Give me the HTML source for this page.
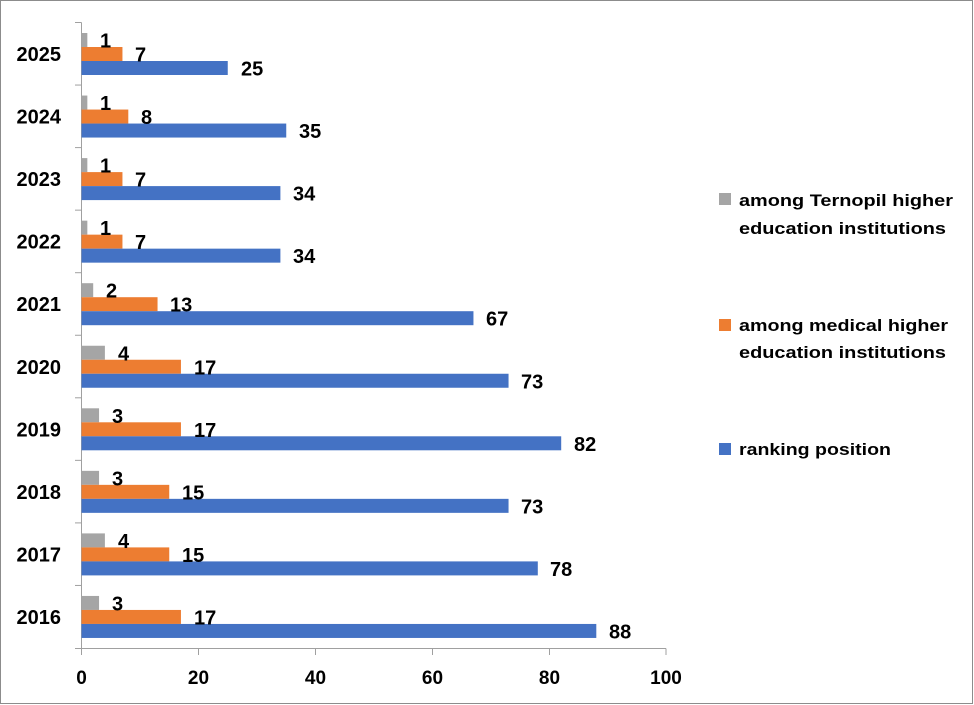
<!DOCTYPE html>
<html><head><meta charset="utf-8"><style>html,body{margin:0;padding:0;background:#fff}svg{display:block}text{font-family:"Liberation Sans",Arial,sans-serif;font-weight:bold;fill:#000}</style></head>
<body>
<svg width="974" height="705" xmlns="http://www.w3.org/2000/svg">
<rect x="0.5" y="0.5" width="972" height="703" fill="#fff" stroke="#8c8c8c"/>
<g stroke="#a0a0a0" stroke-width="1">
<line x1="81.5" y1="22.5" x2="81.5" y2="648.5"/>
<line x1="81.5" y1="648.5" x2="666" y2="648.5"/>
<line x1="75" y1="22.5" x2="81.5" y2="22.5"/><line x1="75" y1="85.05" x2="81.5" y2="85.05"/><line x1="75" y1="147.6" x2="81.5" y2="147.6"/><line x1="75" y1="210.15" x2="81.5" y2="210.15"/><line x1="75" y1="272.7" x2="81.5" y2="272.7"/><line x1="75" y1="335.25" x2="81.5" y2="335.25"/><line x1="75" y1="397.8" x2="81.5" y2="397.8"/><line x1="75" y1="460.35" x2="81.5" y2="460.35"/><line x1="75" y1="522.9" x2="81.5" y2="522.9"/><line x1="75" y1="585.45" x2="81.5" y2="585.45"/><line x1="75" y1="648.5" x2="81.5" y2="648.5"/>
<line x1="81.5" y1="648.5" x2="81.5" y2="655"/><line x1="198.5" y1="648.5" x2="198.5" y2="655"/><line x1="315.5" y1="648.5" x2="315.5" y2="655"/><line x1="432.5" y1="648.5" x2="432.5" y2="655"/><line x1="549.5" y1="648.5" x2="549.5" y2="655"/><line x1="666" y1="648.5" x2="666" y2="655"/>
</g>
<g font-size="19" text-anchor="middle">
<text x="81.5" y="684">0</text><text x="198.5" y="684">20</text><text x="315.5" y="684">40</text><text x="432.5" y="684">60</text><text x="549.5" y="684">80</text><text x="666" y="684">100</text>
</g>
<g font-size="20">
<g transform="translate(0,22.5)"><rect x="81.5" y="10.5" width="5.85" height="14" fill="#a5a5a5"/><rect x="81.5" y="24.5" width="40.95" height="14" fill="#ed7d31"/><rect x="81.5" y="38.5" width="146.25" height="14" fill="#4472c4"/><text x="61" y="38.5" text-anchor="end">2025</text><text x="100" y="25">1</text><text x="135" y="39">7</text><text x="241" y="53">25</text></g>
<g transform="translate(0,85.05)"><rect x="81.5" y="10.5" width="5.85" height="14" fill="#a5a5a5"/><rect x="81.5" y="24.5" width="46.8" height="14" fill="#ed7d31"/><rect x="81.5" y="38.5" width="204.75" height="14" fill="#4472c4"/><text x="61" y="38.5" text-anchor="end">2024</text><text x="100" y="25">1</text><text x="141" y="39">8</text><text x="299" y="53">35</text></g>
<g transform="translate(0,147.6)"><rect x="81.5" y="10.5" width="5.85" height="14" fill="#a5a5a5"/><rect x="81.5" y="24.5" width="40.95" height="14" fill="#ed7d31"/><rect x="81.5" y="38.5" width="198.9" height="14" fill="#4472c4"/><text x="61" y="38.5" text-anchor="end">2023</text><text x="100" y="25">1</text><text x="135" y="39">7</text><text x="293" y="53">34</text></g>
<g transform="translate(0,210.15)"><rect x="81.5" y="10.5" width="5.85" height="14" fill="#a5a5a5"/><rect x="81.5" y="24.5" width="40.95" height="14" fill="#ed7d31"/><rect x="81.5" y="38.5" width="198.9" height="14" fill="#4472c4"/><text x="61" y="38.5" text-anchor="end">2022</text><text x="100" y="25">1</text><text x="135" y="39">7</text><text x="293" y="53">34</text></g>
<g transform="translate(0,272.7)"><rect x="81.5" y="10.5" width="11.7" height="14" fill="#a5a5a5"/><rect x="81.5" y="24.5" width="76.05" height="14" fill="#ed7d31"/><rect x="81.5" y="38.5" width="391.95" height="14" fill="#4472c4"/><text x="61" y="38.5" text-anchor="end">2021</text><text x="106" y="25">2</text><text x="170" y="39">13</text><text x="486" y="53">67</text></g>
<g transform="translate(0,335.25)"><rect x="81.5" y="10.5" width="23.4" height="14" fill="#a5a5a5"/><rect x="81.5" y="24.5" width="99.45" height="14" fill="#ed7d31"/><rect x="81.5" y="38.5" width="427.05" height="14" fill="#4472c4"/><text x="61" y="38.5" text-anchor="end">2020</text><text x="118" y="25">4</text><text x="194" y="39">17</text><text x="521" y="53">73</text></g>
<g transform="translate(0,397.8)"><rect x="81.5" y="10.5" width="17.55" height="14" fill="#a5a5a5"/><rect x="81.5" y="24.5" width="99.45" height="14" fill="#ed7d31"/><rect x="81.5" y="38.5" width="479.7" height="14" fill="#4472c4"/><text x="61" y="38.5" text-anchor="end">2019</text><text x="112" y="25">3</text><text x="194" y="39">17</text><text x="574" y="53">82</text></g>
<g transform="translate(0,460.35)"><rect x="81.5" y="10.5" width="17.55" height="14" fill="#a5a5a5"/><rect x="81.5" y="24.5" width="87.75" height="14" fill="#ed7d31"/><rect x="81.5" y="38.5" width="427.05" height="14" fill="#4472c4"/><text x="61" y="38.5" text-anchor="end">2018</text><text x="112" y="25">3</text><text x="182" y="39">15</text><text x="521" y="53">73</text></g>
<g transform="translate(0,522.9)"><rect x="81.5" y="10.5" width="23.4" height="14" fill="#a5a5a5"/><rect x="81.5" y="24.5" width="87.75" height="14" fill="#ed7d31"/><rect x="81.5" y="38.5" width="456.3" height="14" fill="#4472c4"/><text x="61" y="38.5" text-anchor="end">2017</text><text x="118" y="25">4</text><text x="182" y="39">15</text><text x="550" y="53">78</text></g>
<g transform="translate(0,585.45)"><rect x="81.5" y="10.5" width="17.55" height="14" fill="#a5a5a5"/><rect x="81.5" y="24.5" width="99.45" height="14" fill="#ed7d31"/><rect x="81.5" y="38.5" width="514.8" height="14" fill="#4472c4"/><text x="61" y="38.5" text-anchor="end">2016</text><text x="112" y="25">3</text><text x="194" y="39">17</text><text x="609" y="53">88</text></g>
</g>
<g font-size="17">
<rect x="719" y="193" width="12" height="12" fill="#a5a5a5"/>
<text x="739" y="206" textLength="214" lengthAdjust="spacingAndGlyphs">among Ternopil higher</text>
<text x="739" y="234" textLength="207" lengthAdjust="spacingAndGlyphs">education institutions</text>
<rect x="719" y="319" width="12" height="12" fill="#ed7d31"/>
<text x="739" y="331" textLength="209" lengthAdjust="spacingAndGlyphs">among medical higher</text>
<text x="739" y="358" textLength="207" lengthAdjust="spacingAndGlyphs">education institutions</text>
<rect x="719" y="443" width="12" height="12" fill="#4472c4"/>
<text x="739" y="455" textLength="152" lengthAdjust="spacingAndGlyphs">ranking position</text>
</g>
</svg>
</body></html>
